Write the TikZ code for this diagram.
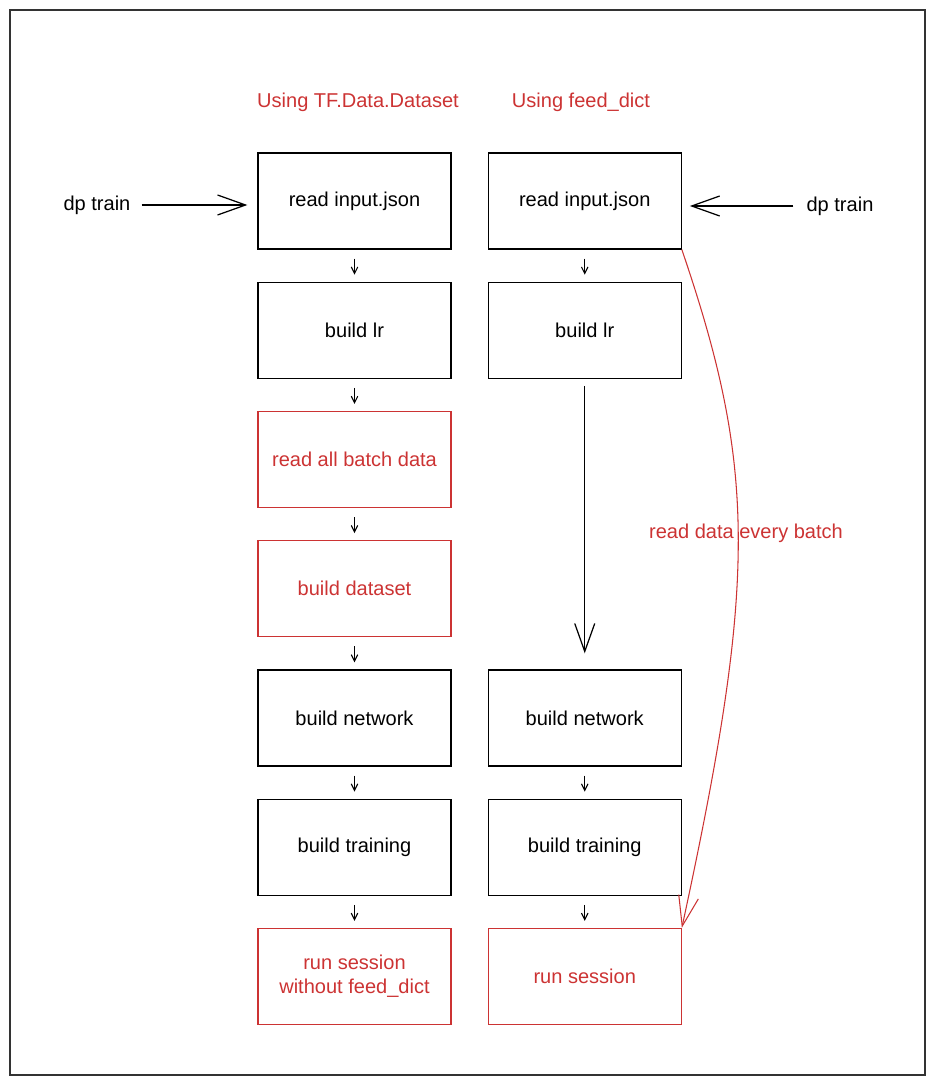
\documentclass[tikz,border=0pt]{standalone}
\usepackage{fontspec}
\setmainfont{Liberation Sans}
\usetikzlibrary{arrows.meta, positioning, calc}
\definecolor{flowred}{RGB}{204,51,51}
\definecolor{framegray}{RGB}{51,51,51}

\begin{document}
\begin{tikzpicture}[
    node distance=0.64cm and 0.72cm,
    font=\fontsize{11.4}{13.6}\selectfont,
    process/.style={rectangle, draw, line width=0.7pt, text centered, align=center, minimum width=3.86cm, minimum height=1.92cm, inner sep=2pt},
    redstep/.style={process, draw=flowred, text=flowred},
    title/.style={text=flowred},
    arrow/.style={line width=0.6pt, -{Straight Barb[length=1.3mm, width=1.3mm]}, shorten <=0.18cm, shorten >=0.14cm},
    bigarrow/.style={line width=0.7pt, -{Straight Barb[length=5.6mm, width=4mm]}}
]
\useasboundingbox (0,0) rectangle (18.7,-21.68);
\draw [framegray, line width=0.85pt] (0.2,-0.2) rectangle (18.5,-21.5);

% 左列: TF.Data.Dataset
\node (inL) [process] at (7.09,-4.02) {read input.json};
\node (lrL) [process, below=of inL] {build lr};
\node (readL) [redstep, below=of lrL] {read all batch data};
\node (dsL) [redstep, below=of readL] {build dataset};
\node (netL) [process, below=of dsL] {build network};
\node (trainL) [process, below=of netL] {build training};
\node (runL) [redstep, below=of trainL] {run session\\without feed\_dict};

% 右列: feed_dict
\node (inR) [process, right=of inL] {read input.json};
\node (lrR) [process, below=of inR] {build lr};
\node (netR) [process, right=of netL] {build network};
\node (trainR) [process, below=of netR] {build training};
\node (runR) [redstep, below=of trainR] {run session};

% 标题与入口
\node (titleL) [title] at (7.16,-2.04) {Using TF.Data.Dataset};
\node (titleR) [title] at (11.62,-2.04) {Using feed\_dict};
\node (dpL) at (1.94,-4.1) {dp train};
\node (dpR) at (16.8,-4.12) {dp train};

% 主流程箭头
\foreach \a/\b in {inL/lrL, lrL/readL, readL/dsL, dsL/netL, netL/trainL, trainL/runL, inR/lrR, netR/trainR, trainR/runR}
    \draw [arrow] (\a) -- (\b);
\draw [bigarrow, shorten <=0.1cm, shorten >=0.2cm] (dpL) -- (dpL -| inL.west);
\draw [bigarrow, shorten <=0.14cm, shorten >=0.16cm] (dpR) -- (dpR -| inR.east);
\draw [bigarrow, shorten <=0.14cm, shorten >=0.32cm] (lrR) -- (netR);

% 每个batch读数据
\draw [flowred, line width=0.6pt, -{Straight Barb[length=6mm, width=4mm]}] (inR.south east) .. controls (15.14,-9.4) and (15.14,-11.6) .. (runR.north east);
\node (every) [title] at (14.92,-10.66) {read data every batch};

\end{tikzpicture}
\end{document}
